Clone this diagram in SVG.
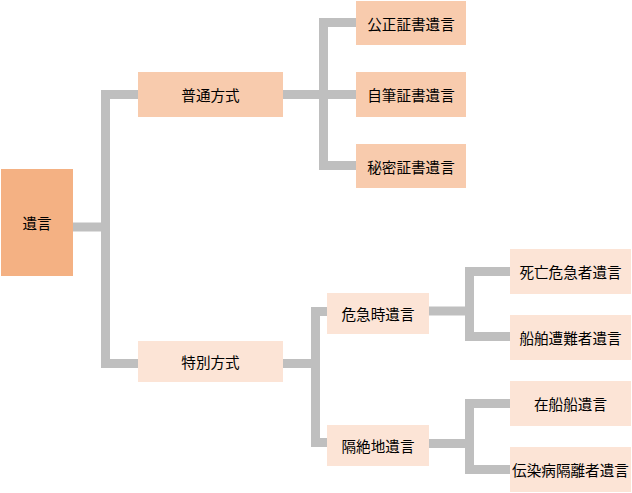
<svg xmlns="http://www.w3.org/2000/svg" width="632" height="493" viewBox="0 0 632 493">
<style>
text{font-family:"Noto Sans CJK JP","Noto Sans CJK SC",sans-serif;font-size:14.6px;fill:#000;text-anchor:middle;dominant-baseline:central}
.c path{fill:none;stroke:#BFBFBF;stroke-width:9;stroke-linejoin:miter}
.l0{fill:#F4B183}.l1{fill:#F8CBAD}.l2{fill:#FCE4D6}
</style>
<rect width="632" height="493" fill="#fff"/>
<g class="c" id="connectors">
<path d="M73 227H105.5"/>
<path d="M138 94.5H105.5V363.5H138"/>
<path d="M283 94.5H356"/>
<path d="M356 22.5H323.5V165.5H356"/>
<path d="M283 363.5H315.5"/>
<path d="M327 311.5H315.5V442.5H327"/>
<path d="M429 311H469.5"/>
<path d="M510 271.5H469.5V336.5H510"/>
<path d="M429 443.5H469.5"/>
<path d="M510 403.5H469.5V469.5H510"/>
</g>
<g id="root"><rect class="l0" x="1" y="169" width="72" height="107"/><text x="37" y="222.5">遺言</text></g>
<g id="n1"><rect class="l1" x="138" y="72" width="145" height="45"/><text x="210.5" y="94.5">普通方式</text></g>
<g id="n11"><rect class="l1" x="356" y="1" width="110" height="44"/><text x="411" y="23">公正証書遺言</text></g>
<g id="n12"><rect class="l1" x="356" y="72" width="110" height="45"/><text x="411" y="94.5">自筆証書遺言</text></g>
<g id="n13"><rect class="l1" x="356" y="144" width="110" height="44"/><text x="411" y="166">秘密証書遺言</text></g>
<g id="n2"><rect class="l2" x="138" y="341" width="145" height="41"/><text x="210.5" y="361.5">特別方式</text></g>
<g id="n21"><rect class="l2" x="327" y="293" width="102" height="41"/><text x="378" y="313.5">危急時遺言</text></g>
<g id="n22"><rect class="l2" x="327" y="425" width="102" height="41"/><text x="378" y="445.5">隔絶地遺言</text></g>
<g id="n211"><rect class="l2" x="510" y="249" width="121" height="45"/><text x="570.5" y="271.5">死亡危急者遺言</text></g>
<g id="n212"><rect class="l2" x="510" y="315" width="121" height="45"/><text x="570.5" y="337.5">船舶遭難者遺言</text></g>
<g id="n221"><rect class="l2" x="510" y="381" width="121" height="45"/><text x="570.5" y="403.5">在船船遺言</text></g>
<g id="n222"><rect class="l2" x="510" y="447" width="121" height="45"/><text x="570.5" y="469.5">伝染病隔離者遺言</text></g>
</svg>
